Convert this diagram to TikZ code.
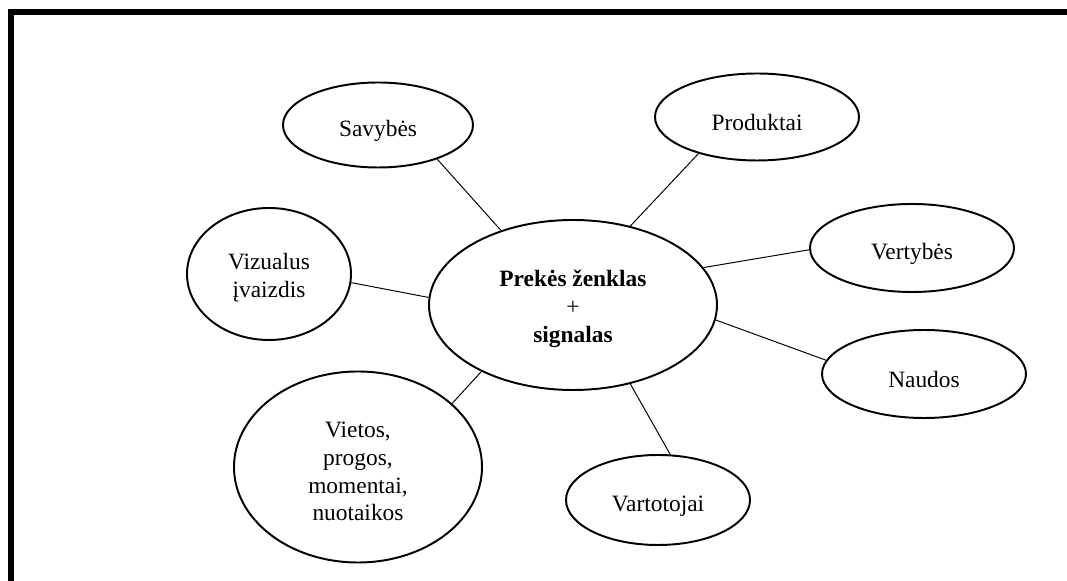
\documentclass[tikz,border=0pt]{standalone}
\usepackage{fontspec}
\setmainfont{Liberation Serif}
\usetikzlibrary{shapes.geometric}
\def\px{0.5128pt}
% invisible strut that lowers a stacked label a little inside its ellipse
\newcommand\toplift{\rule{0pt}{12.5pt}}
\tikzset{
  bubble/.style 2 args={ellipse, draw, line width=1pt, inner sep=0pt,
    align=center, font=\fontsize{12}{14.3}\selectfont,
    execute at begin node={\rule{0pt}{14pt}},
    minimum width={#1*\px}, minimum height={#2*\px}},
  link/.style={line width=0.5pt},
  frameline/.style={line width=3pt}
}
\begin{document}
\begin{tikzpicture}[x=\px, y=-\px]
\useasboundingbox (0,0) rectangle (1067,581);
% open frame: top and left edges only
\coordinate (ftl) at (11,12);
\coordinate (ftr) at (1067,12);
\coordinate (fbl) at (11,581);
\draw[frameline] (ftr) -- (ftl) -- (fbl);

\node[bubble={288}{170}] (core) at (573,305)
  {\toplift\textbf{Prekės ženklas}\\+\\\textbf{signalas}};
\node[bubble={190}{85}]  (sav)  at (378,125) {Savybės};
\node[bubble={204}{87}]  (prod) at (757,117) {Produktai};
\node[bubble={204}{88}]  (vert) at (912,248) {Vertybės};
\node[bubble={204}{88}]  (naud) at (924,374) {Naudos};
\node[bubble={164}{132}] (viz)  at (269,274) {\toplift Vizualus\\įvaizdis};
\node[bubble={248}{191}] (viet) at (358,467) {\toplift Vietos,\\progos,\\momentai,\\nuotaikos};
\node[bubble={184}{90}]  (vart) at (658,500) {Vartotojai};

\draw[link] (sav.-30.7)  -- (core.134.6);
\draw[link] (prod.212.8) -- (core.54.5);
\draw[link] (vert.181)   -- (core.16.4);
\draw[link] (naud.172)   -- (core.-6);
\draw[link] (viz.-6)     -- (core.177);
\draw[link] (viet.34)    -- (core.216.4);
\draw[link] (vart.75)    -- (core.-54.8);
\end{tikzpicture}
\end{document}
